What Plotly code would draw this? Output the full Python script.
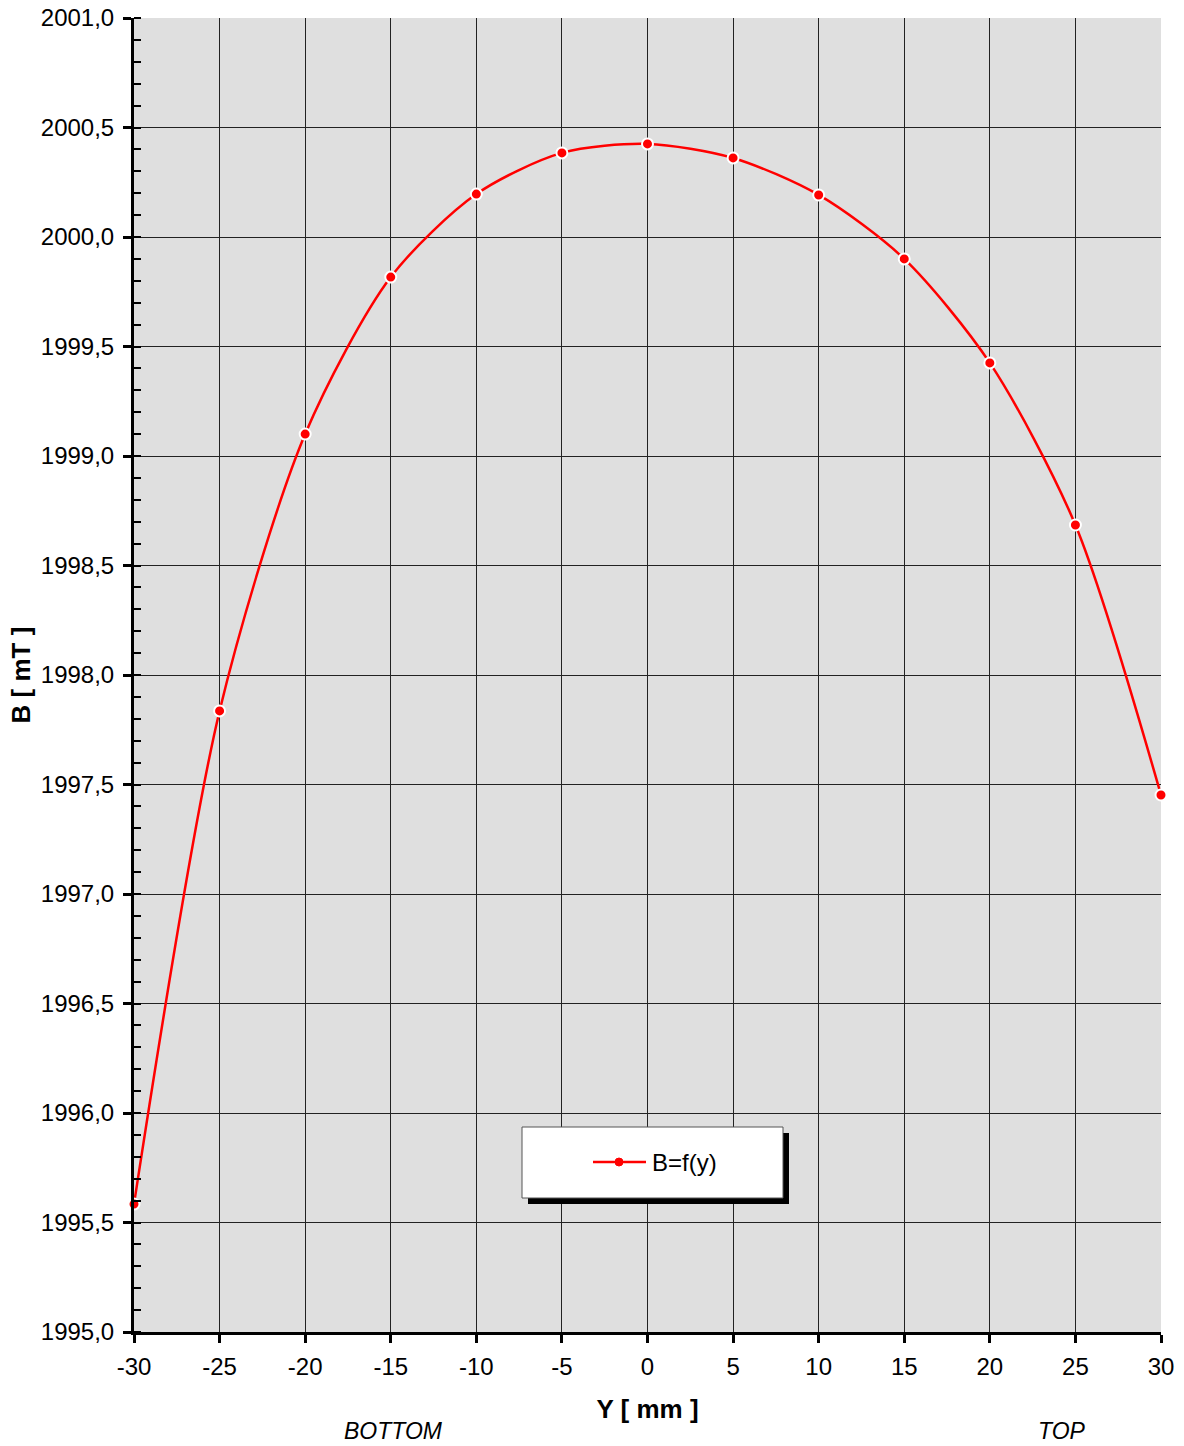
import plotly.graph_objects as go

y_mm = [-30, -25, -20, -15, -10, -5, 0, 5, 10, 15, 20, 25, 30]
b_mt = [1995.584, 1997.836, 1999.100, 1999.817, 2000.196, 2000.384, 2000.425,
        2000.361, 2000.192, 1999.900, 1999.425, 1998.685, 1997.452]
x_tick_vals = [-30, -25, -20, -15, -10, -5, 0, 5, 10, 15, 20, 25, 30]
x_tick_text = ["-30", "-25", "-20", "-15", "-10", "-5", "0", "5", "10", "15", "20", "25", "30"]
series_name = "B=f(y)"
x_title = "<b>Y [ mm ]</b>"
y_title = "<b>B [ mT ]</b>"
left_label = "BOTTOM"
right_label = "TOP"

FONT = "Liberation Sans, Arial, sans-serif"
RED = "#ff0000"

fig = go.Figure()
fig.add_trace(go.Scatter(
    x=y_mm, y=b_mt, name=series_name, mode="lines+markers",
    line=dict(color=RED, width=2.5, shape="spline", smoothing=0.8),
    marker=dict(color=RED, size=11, line=dict(color="white", width=2)),
    cliponaxis=False, showlegend=False,
))

W, H = 1184, 1446
L, R, T, B = 134, 1161, 18, 1332          # plot area in window pixels
pw, ph = R - L, B - T

def px(x):
    return (x - L) / pw

def py(y):
    return (B - y) / ph

# legend box with shadow
fig.add_shape(type="rect", xref="paper", yref="paper",
              x0=px(528), x1=px(789), y0=py(1204), y1=py(1133),
              fillcolor="black", line=dict(width=0), layer="above")
fig.add_shape(type="rect", xref="paper", yref="paper",
              x0=px(522), x1=px(783), y0=py(1198), y1=py(1127),
              fillcolor="white", line=dict(color="#555555", width=1), layer="above")
# legend key: line with marker
fig.add_shape(type="line", xref="paper", yref="paper",
              x0=px(593), x1=px(646), y0=py(1162), y1=py(1162),
              line=dict(color=RED, width=2.5), layer="above")
fig.add_shape(type="circle", xref="paper", yref="paper",
              x0=px(615), x1=px(623), y0=py(1166), y1=py(1158),
              fillcolor=RED, line=dict(color=RED, width=1), layer="above")
fig.add_annotation(text=series_name, xref="paper", yref="paper",
                   x=px(650), y=py(1162), showarrow=False,
                   font=dict(family=FONT, size=24, color="black"), xanchor="left", yanchor="middle")

fig.add_annotation(text="<i>" + left_label + "</i>", xref="paper", yref="paper",
                   x=px(393), y=py(1431), showarrow=False,
                   font=dict(family=FONT, size=23, color="black"), xanchor="center", yanchor="middle")
fig.add_annotation(text="<i>" + right_label + "</i>", xref="paper", yref="paper",
                   x=px(1062), y=py(1431), showarrow=False,
                   font=dict(family=FONT, size=23, color="black"), xanchor="center", yanchor="middle")

fig.update_layout(
    width=W, height=H,
    margin=dict(l=L, r=W - R, t=T, b=H - B, pad=0, autoexpand=False),
    paper_bgcolor="white",
    plot_bgcolor="#dfdfdf",
    separators=",.",
    font=dict(family=FONT, size=24, color="black"),
    showlegend=False,
)

fig.update_xaxes(
    range=[-30, 30], tickmode="array", tickvals=x_tick_vals, ticktext=x_tick_text,
    showgrid=True, gridcolor="#222222", gridwidth=1, zeroline=False,
    showline=True, linecolor="black", linewidth=3, automargin=False,
    ticks="outside", ticklen=8, tickwidth=3, tickcolor="black",
    ticklabelstandoff=3, ticklabeloverflow="allow",
    tickfont=dict(size=24),
    title=dict(text=x_title, font=dict(size=26), standoff=22),
)
fig.update_yaxes(
    range=[1995, 2001], tickmode="linear", tick0=1995, dtick=0.5, tickformat=".1f",
    showgrid=True, gridcolor="#222222", gridwidth=1, zeroline=False,
    showline=True, linecolor="black", linewidth=3, automargin=False,
    ticks="outside", ticklen=8, tickwidth=3, tickcolor="black",
    ticklabelstandoff=4, ticklabeloverflow="allow",
    tickfont=dict(size=24),
    minor=dict(dtick=0.1, ticks="inside", ticklen=7, tickwidth=2, tickcolor="black", showgrid=False),
    title=dict(text=y_title, font=dict(size=26), standoff=3),
)

fig.write_html("out.html", config={"displayModeBar": False},
               post_script="document.body.style.margin='0px';")
